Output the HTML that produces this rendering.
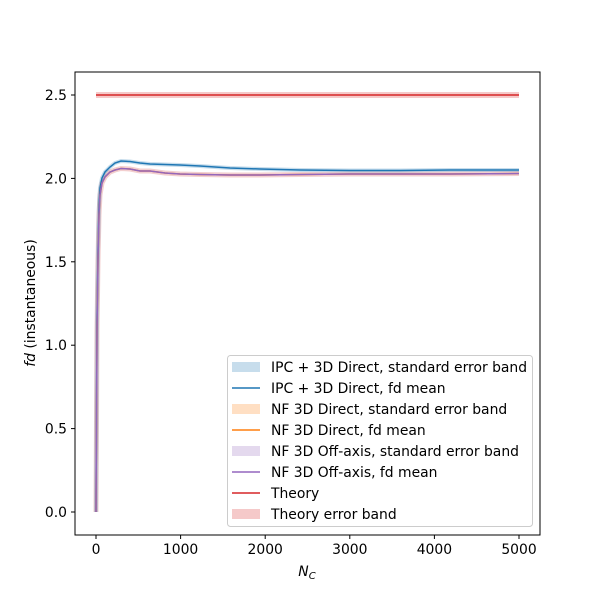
<!DOCTYPE html>
<html><head><style>body{margin:0;background:#fff}svg{display:block}text{font-family:"DejaVu Sans","Liberation Sans",sans-serif;font-size:13.9px;fill:#000}</style></head><body>
<svg width="600" height="600" viewBox="0 0 600 600">
<rect x="0" y="0" width="600" height="600" fill="#fff"/>
<rect x="96" y="92" width="423" height="6" fill="#d62728" opacity="0.25"/>
<line x1="96" y1="95" x2="519" y2="95" stroke="#d62728" stroke-width="1.5"/>
<path d="M96,512 L97,330 L98,260 L99,215 L100,195 L102,183 L105,177 L110,172 L115,170 L121,168.5 L130,169 L140,171 L150,171 L165,173 L180,174 L200,174.5 L230,175 L260,175 L300,174.5 L350,174 L400,174 L450,174 L519,173.5" fill="none" stroke="#e8a0a0" stroke-width="5" opacity="0.5"/>
<path d="M96,512 L97,320 L98,250 L99,205 L100,188 L102,178 L105,172 L110,167 L115,163 L121,161 L130,161.5 L140,163 L150,164 L165,164.5 L180,165 L200,166 L230,168 L260,169 L300,170 L350,170.5 L400,170.5 L450,170 L519,170" fill="none" stroke="#1f77b4" stroke-width="4" opacity="0.25"/>
<path d="M96,512 L97,320 L98,250 L99,205 L100,188 L102,178 L105,172 L110,167 L115,163 L121,161 L130,161.5 L140,163 L150,164 L165,164.5 L180,165 L200,166 L230,168 L260,169 L300,170 L350,170.5 L400,170.5 L450,170 L519,170" fill="none" stroke="#1f77b4" stroke-width="1.5"/>
<path d="M96,512 L97,330 L98,260 L99,215 L100,195 L102,183 L105,177 L110,172 L115,170 L121,168.5 L130,169 L140,171 L150,171 L165,173 L180,174 L200,174.5 L230,175 L260,175 L300,174.5 L350,174 L400,174 L450,174 L519,173.5" fill="none" stroke="#ff7f0e" stroke-width="1.5"/>
<path d="M96,512 L97,330 L98,260 L99,215 L100,195 L102,183 L105,177 L110,172 L115,170 L121,168.5 L130,169 L140,171 L150,171 L165,173 L180,174 L200,174.5 L230,175 L260,175 L300,174.5 L350,174 L400,174 L450,174 L519,173.5" fill="none" stroke="#9467bd" stroke-width="1.5"/>
<rect x="75" y="72" width="465" height="463" fill="none" stroke="#000" stroke-width="1"/>
<g stroke="#000">
<line x1="96" y1="535" x2="96" y2="539"/><line x1="180.6" y1="535" x2="180.6" y2="539"/><line x1="265.2" y1="535" x2="265.2" y2="539"/><line x1="349.8" y1="535" x2="349.8" y2="539"/><line x1="434.4" y1="535" x2="434.4" y2="539"/><line x1="519" y1="535" x2="519" y2="539"/>
<line x1="71" y1="512" x2="75" y2="512"/><line x1="71" y1="428.6" x2="75" y2="428.6"/><line x1="71" y1="345.2" x2="75" y2="345.2"/><line x1="71" y1="261.8" x2="75" y2="261.8"/><line x1="71" y1="178.4" x2="75" y2="178.4"/><line x1="71" y1="95" x2="75" y2="95"/>
</g>
<g text-anchor="middle">
<text x="96" y="554">0</text><text x="180.6" y="554">1000</text><text x="265.2" y="554">2000</text><text x="349.8" y="554">3000</text><text x="434.4" y="554">4000</text><text x="519" y="554">5000</text>
</g>
<g text-anchor="end">
<text x="67" y="517">0.0</text><text x="67" y="433.6">0.5</text><text x="67" y="350.2">1.0</text><text x="67" y="266.8">1.5</text><text x="67" y="183.4">2.0</text><text x="67" y="100">2.5</text>
</g>
<text x="307" y="576" text-anchor="middle" font-style="italic">N<tspan font-size="10" dy="3">C</tspan></text>
<text transform="translate(35,303) rotate(-90)" text-anchor="middle"><tspan font-style="italic">fd</tspan> (instantaneous)</text>
<rect x="227.5" y="355.5" width="305" height="171" rx="3" fill="#fff" fill-opacity="0.8" stroke="#ccc"/>
<g>
<rect x="232" y="362" width="28" height="10" fill="#1f77b4" opacity="0.25"/><text x="271" y="372">IPC + 3D Direct, standard error band</text>
<line x1="232" y1="388" x2="260" y2="388" stroke="#1f77b4" stroke-width="1.5"/><text x="271" y="393">IPC + 3D Direct, fd mean</text>
<rect x="232" y="404" width="28" height="10" fill="#ff7f0e" opacity="0.25"/><text x="271" y="414">NF 3D Direct, standard error band</text>
<line x1="232" y1="430" x2="260" y2="430" stroke="#ff7f0e" stroke-width="1.5"/><text x="271" y="435">NF 3D Direct, fd mean</text>
<rect x="232" y="446" width="28" height="10" fill="#9467bd" opacity="0.25"/><text x="271" y="456">NF 3D Off-axis, standard error band</text>
<line x1="232" y1="472" x2="260" y2="472" stroke="#9467bd" stroke-width="1.5"/><text x="271" y="477">NF 3D Off-axis, fd mean</text>
<line x1="232" y1="493" x2="260" y2="493" stroke="#d62728" stroke-width="1.5"/><text x="271" y="498">Theory</text>
<rect x="232" y="509" width="28" height="10" fill="#d62728" opacity="0.25"/><text x="271" y="519">Theory error band</text>
</g>
</svg>
</body></html>
